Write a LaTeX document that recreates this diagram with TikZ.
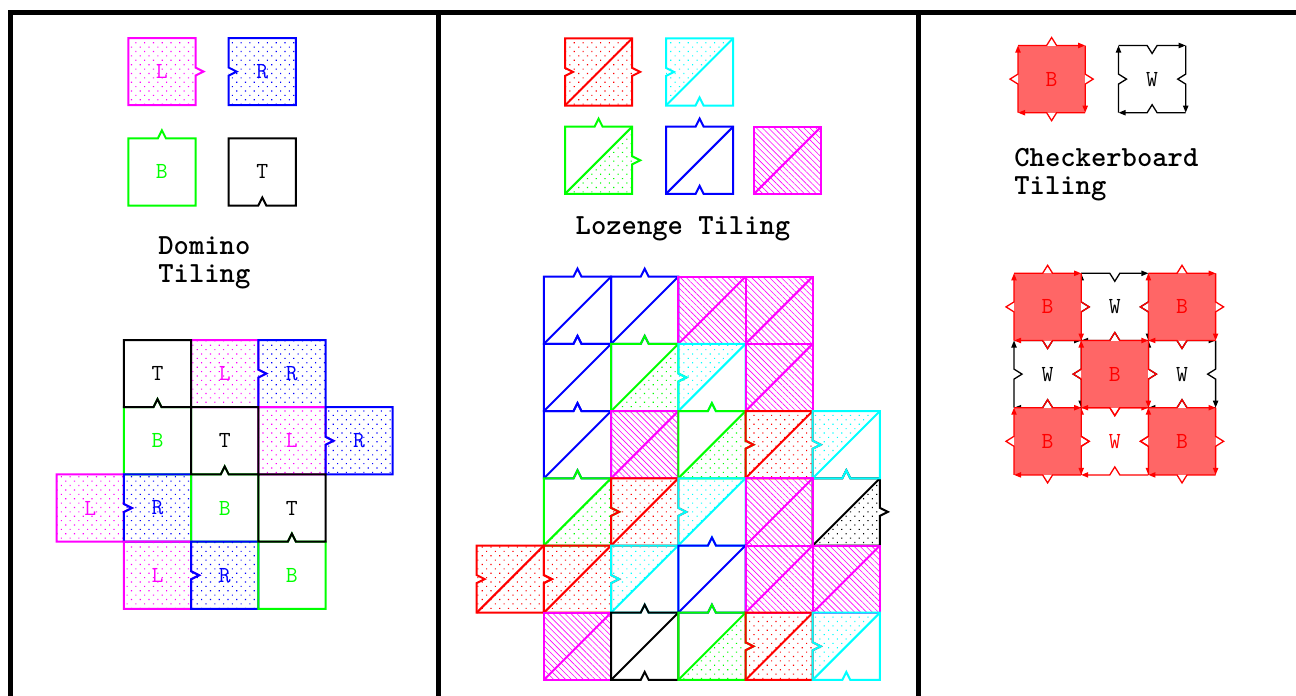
\documentclass[tikz,border=0pt]{standalone}
\usepackage{fontspec}
\usepackage{tikz}
\usetikzlibrary{arrows.meta,patterns.meta}
\definecolor{tcyan}{rgb}{0,1,1}
\definecolor{tmagenta}{rgb}{1,0,1}
\definecolor{tgreen}{rgb}{0,1,0}

% square with a notch on each side: 1 = bump out, -1 = notch in, 0 = straight
\newcommand{\sqpath}[6]{(#1,#2) -- ++(29.6,0) -- ++(4,{-8*(#3)}) -- ++(4,{8*(#3)}) -- ++(29.6,0)
  -- ++(0,29.6) -- ++({8*(#4)},4) -- ++({-8*(#4)},4) -- ++(0,29.6)
  -- ++(-29.6,0) -- ++(-4,{8*(#5)}) -- ++(-4,{-8*(#5)}) -- ++(-29.6,0)
  -- ++(0,-29.6) -- ++({-8*(#6)},-4) -- ++({8*(#6)},-4) -- cycle}

% domino pieces
\newcommand{\domL}[3]{%
  \fill[dotfill,pattern color=tmagenta] (#1,#2) rectangle ++(67.2,67.2);
  \draw[tile,tmagenta] \sqpath{#1}{#2}{0}{1}{0}{0};
  \node[lbl,tmagenta] (#3) at ({#1+33.6},{#2+33.6}) {L};}
\newcommand{\domR}[3]{%
  \fill[dotfill,pattern color=blue] (#1,#2) rectangle ++(67.2,67.2);
  \draw[tile,blue] \sqpath{#1}{#2}{0}{0}{0}{-1};
  \node[lbl,blue] (#3) at ({#1+33.6},{#2+33.6}) {R};}
\newcommand{\domB}[3]{%
  \draw[tile,tgreen] \sqpath{#1}{#2}{1}{0}{0}{0};
  \node[lbl,tgreen] (#3) at ({#1+33.6},{#2+33.6}) {B};}
\newcommand{\domT}[3]{%
  \draw[tile,black] \sqpath{#1}{#2}{0}{0}{-1}{0};
  \node[lbl,black] (#3) at ({#1+33.6},{#2+33.6}) {T};}

% lozenge pieces
\newcommand{\lozdiag}[3]{\draw[tile,#3] (#1,{#2+67.2}) -- ++(67.2,-67.2);}
\newcommand{\lozr}[2]{%
  \fill[dotfill,pattern color=red] (#1,#2) rectangle ++(67.2,67.2);
  \draw[tile,red] \sqpath{#1}{#2}{0}{1}{0}{-1};
  \lozdiag{#1}{#2}{red}}
\newcommand{\lozc}[2]{%
  \fill[dotfill,pattern color=tcyan] (#1,#2) -- ++(67.2,0) -- ++(-67.2,67.2) -- cycle;
  \draw[tile,tcyan] \sqpath{#1}{#2}{0}{0}{-1}{-1};
  \lozdiag{#1}{#2}{tcyan}}
\newcommand{\lozg}[2]{%
  \fill[dotfill,pattern color=tgreen] ({#1+67.2},#2) -- ++(0,67.2) -- ++(-67.2,0) -- cycle;
  \draw[tile,tgreen] \sqpath{#1}{#2}{1}{1}{0}{0};
  \lozdiag{#1}{#2}{tgreen}}
\newcommand{\lozb}[2]{%
  \draw[tile,blue] \sqpath{#1}{#2}{1}{0}{-1}{0};
  \lozdiag{#1}{#2}{blue}}
\newcommand{\lozm}[2]{%
  \fill[hatchfill,pattern color=tmagenta] (#1,#2) rectangle ++(67.2,67.2);
  \draw[tile,tmagenta] \sqpath{#1}{#2}{0}{0}{0}{0};
  \lozdiag{#1}{#2}{tmagenta}}
\newcommand{\lozk}[2]{%
  \fill[dotfill,pattern color=black] ({#1+67.2},#2) -- ++(0,67.2) -- ++(-67.2,0) -- cycle;
  \draw[tile,black] \sqpath{#1}{#2}{1}{1}{0}{0};
  \lozdiag{#1}{#2}{black}}
\newcommand{\lozq}[2]{%
  \draw[tile,black] \sqpath{#1}{#2}{1}{0}{-1}{0};
  \lozdiag{#1}{#2}{black}}

% checkerboard pieces, arrows run clockwise
\newcommand{\cbedges}[3]{%
  \draw[cbline] (#1,#2) -- ++(28.6,0) -- ++(5,{-8*(#3)}) -- ++(5,{8*(#3)}) -- ++(28.6,0);
  \draw[cbline] ({#1+67.2},#2) -- ++(0,28.6) -- ++({8*(#3)},5) -- ++({-8*(#3)},5) -- ++(0,28.6);
  \draw[cbline] ({#1+67.2},{#2+67.2}) -- ++(-28.6,0) -- ++(-5,{8*(#3)}) -- ++(-5,{-8*(#3)}) -- ++(-28.6,0);
  \draw[cbline] (#1,{#2+67.2}) -- ++(0,-28.6) -- ++({-8*(#3)},-5) -- ++({8*(#3)},-5) -- ++(0,-28.6);}
\newcommand{\cbB}[3]{%
  \fill[red!60] (#1,#2) rectangle ++(67.2,67.2);
  \begin{scope}[red]\cbedges{#1}{#2}{1}\end{scope}
  \node[lbl,red] (#3) at ({#1+33.6},{#2+33.6}) {B};}
\newcommand{\cbW}[4]{%
  \begin{scope}[#4]\cbedges{#1}{#2}{-1}\end{scope}
  \node[lbl,#4] (#3) at ({#1+33.6},{#2+33.6}) {W};}

\begin{document}
\begin{tikzpicture}[x=0.5pt,y=-0.5pt,
    tile/.style={line width=1pt,line join=miter},
    cbline/.style={line width=0.65pt,-{Triangle[length=3.5pt,width=2.6pt]}},
    dotfill/.style={pattern={Dots[distance=3.1pt,angle=45,radius=0.4pt]}},
    hatchfill/.style={pattern={Lines[angle=-45,distance=2.1pt,line width=0.3pt]}},
    lbl/.style={font=\ttfamily\fontsize{11.5}{12}\selectfont,inner sep=0pt},
    title/.style={font=\ttfamily\bfseries\fontsize{14.6}{13.8}\selectfont\addfontfeatures{FakeBold=1.6},align=left,inner sep=0pt},
    frame/.style={line width=2.6pt,line join=miter}]
  \useasboundingbox (0,0) rectangle (1296,696);

  % frame
  \draw[frame] (10.5,696) -- (10.5,12.7) -- (1296,12.7);
  \draw[frame] (438.3,12.7) -- (438.3,696);
  \draw[frame] (918.3,12.7) -- (918.3,696);

  % domino
  \domL{128.3}{38}{dl}
  \domR{228.7}{38}{dr}
  \domB{128.3}{138.3}{db}
  \domT{228.7}{138.3}{dt}
  \node[title,anchor=base west] (domtitle) at (158,282) {Domino\\Tiling};
  \foreach \t/\c/\r in {L/2/0,R/3/0,B/1/1,L/3/1,R/4/1,L/0/2,R/1/2,B/2/2,L/1/3,R/2/3,B/3/3}
    {\csname dom\t\endcsname{56.7+67.2*\c}{340+67.2*\r}{d\t\c\r}}
  \foreach \c/\r in {1/0,2/1,3/2}
    {\domT{56.7+67.2*\c}{340+67.2*\r}{dT\c\r}}

  % lozenge
  \lozr{565}{38.3}
  \lozc{666}{38.3}
  \lozg{565}{126.7}
  \lozb{666}{126.7}
  \lozm{754}{126.7}
  \node[title,anchor=base] (loztitle) at (683,234) {Lozenge Tiling};
  \foreach \t/\c/\r in {b/1/0,b/2/0,m/3/0,m/4/0,%
      b/1/1,g/2/1,c/3/1,m/4/1,%
      b/1/2,m/2/2,g/3/2,r/4/2,k/5/3,c/5/2,%
      g/1/3,r/2/3,c/3/3,m/4/3,%
      r/0/4,r/1/4,c/2/4,b/3/4,m/4/4,m/5/4,%
      m/1/5,q/2/5,g/3/5,r/4/5,c/5/5}
    {\csname loz\t\endcsname{476.7+67.2*\c}{276.7+67.2*\r}}

  % checkerboard
  \cbB{1018}{45.5}{cb}
  \cbW{1118.5}{45.5}{cw}{black}
  \node[title,anchor=base west] (cbtitle) at (1014,194) {Checkerboard\\Tiling};
  \foreach \c/\r/\col in {1/0/black,0/1/black,2/1/black,1/2/red}
    {\cbW{1014+67.2*\c}{273.3+67.2*\r}{w\c\r}{\col}}
  \foreach \c/\r in {0/0,2/0,1/1,0/2,2/2}
    {\cbB{1014+67.2*\c}{273.3+67.2*\r}{b\c\r}}
\end{tikzpicture}
\end{document}
